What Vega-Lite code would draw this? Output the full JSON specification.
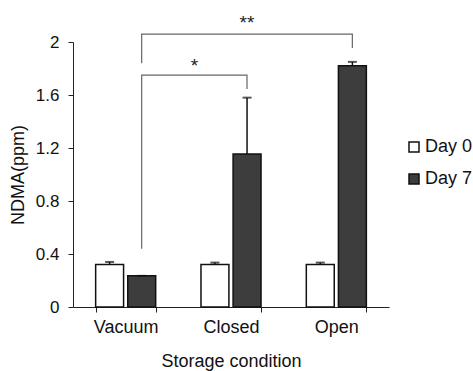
{
  "$schema": "https://vega.github.io/schema/vega-lite/v6.json",
  "autosize": "none",
  "width": 316,
  "height": 265,
  "padding": {"left": 73, "top": 42, "right": 84, "bottom": 64},
  "background": "white",
  "config": {
    "font": "Liberation Sans",
    "view": {"stroke": null},
    "axis": {"labelColor": "#111", "titleColor": "#111", "titleFontWeight": "normal", "domainColor": "#222", "tickColor": "#222", "grid": false}
  },
  "datasets": {
    "bars": [
      {"cond": "Vacuum", "day": "Day 0", "value": 0.32, "upper": 0.34},
      {"cond": "Vacuum", "day": "Day 7", "value": 0.235, "upper": 0.235},
      {"cond": "Closed", "day": "Day 0", "value": 0.32, "upper": 0.335},
      {"cond": "Closed", "day": "Day 7", "value": 1.155, "upper": 1.58},
      {"cond": "Open", "day": "Day 0", "value": 0.32, "upper": 0.335},
      {"cond": "Open", "day": "Day 7", "value": 1.82, "upper": 1.85}
    ],
    "brackets": [
      {"id": "a", "ord": 1, "xpos": 0.652, "y": 0.44},
      {"id": "a", "ord": 2, "xpos": 0.652, "y": 1.75},
      {"id": "a", "ord": 3, "xpos": 1.652, "y": 1.75},
      {"id": "a", "ord": 4, "xpos": 1.652, "y": 1.645},
      {"id": "b", "ord": 1, "xpos": 0.652, "y": 1.84},
      {"id": "b", "ord": 2, "xpos": 0.652, "y": 2.06},
      {"id": "b", "ord": 3, "xpos": 2.652, "y": 2.06},
      {"id": "b", "ord": 4, "xpos": 2.652, "y": 1.955}
    ],
    "stars": [
      {"label": "*", "xpos": 1.152, "y": 1.82},
      {"label": "**", "xpos": 1.652, "y": 2.14}
    ]
  },
  "layer": [
    {
      "data": {"name": "bars"},
      "layer": [
        {
          "mark": {"type": "bar", "stroke": "#111", "strokeWidth": 1.5},
          "encoding": {
            "x": {"field": "cond", "type": "nominal", "sort": ["Vacuum", "Closed", "Open"],
              "scale": {"paddingInner": 0.43, "paddingOuter": 0.215},
              "axis": {"title": "Storage condition", "labelAngle": 0, "tickBand": "extent", "labelFontSize": 18, "titleFontSize": 18, "tickSize": 5, "labelPadding": 6, "titlePadding": 16}},
            "xOffset": {"field": "day", "type": "nominal", "scale": {"paddingInner": 0.13, "paddingOuter": 0}},
            "y": {"field": "value", "type": "quantitative",
              "scale": {"domain": [0, 2], "nice": false},
              "axis": {"title": "NDMA(ppm)", "values": [0, 0.4, 0.8, 1.2, 1.6, 2], "format": ".1~f", "labelFontSize": 17, "titleFontSize": 18, "tickSize": 5, "labelPadding": 9, "titlePadding": 8}},
            "fill": {"field": "day", "type": "nominal",
              "scale": {"domain": ["Day 0", "Day 7"], "range": ["#ffffff", "#3d3d3d"]},
              "legend": {"title": null, "orient": "none", "legendX": 332, "legendY": 96, "symbolType": "square", "symbolSize": 100, "symbolStrokeColor": "#111", "symbolStrokeWidth": 1.5, "labelFontSize": 18, "labelColor": "#111", "rowPadding": 14, "labelOffset": 2}}
          }
        },
        {
          "mark": {"type": "rule", "color": "#111", "strokeWidth": 1.5},
          "encoding": {
            "x": {"field": "cond", "type": "nominal", "sort": ["Vacuum", "Closed", "Open"]},
            "xOffset": {"field": "day", "type": "nominal"},
            "y": {"field": "value", "type": "quantitative"},
            "y2": {"field": "upper"}
          }
        },
        {
          "mark": {"type": "tick", "color": "#111", "size": 9, "thickness": 2},
          "encoding": {
            "x": {"field": "cond", "type": "nominal", "sort": ["Vacuum", "Closed", "Open"]},
            "xOffset": {"field": "day", "type": "nominal"},
            "y": {"field": "upper", "type": "quantitative"}
          }
        }
      ]
    },
    {
      "layer": [
        {
          "data": {"name": "brackets"},
          "mark": {"type": "line", "color": "#666", "strokeWidth": 1.2},
          "encoding": {
            "x": {"field": "xpos", "type": "quantitative", "scale": {"domain": [0, 3], "nice": false, "zero": false}, "axis": null},
            "y": {"field": "y", "type": "quantitative"},
            "detail": {"field": "id"},
            "order": {"field": "ord"}
          }
        },
        {
          "data": {"name": "stars"},
          "mark": {"type": "text", "fontSize": 19, "color": "#222", "baseline": "middle"},
          "encoding": {
            "x": {"field": "xpos", "type": "quantitative", "scale": {"domain": [0, 3], "nice": false, "zero": false}, "axis": null},
            "y": {"field": "y", "type": "quantitative"},
            "text": {"field": "label"}
          }
        }
      ]
    }
  ],
  "resolve": {"scale": {"x": "independent"}}
}
